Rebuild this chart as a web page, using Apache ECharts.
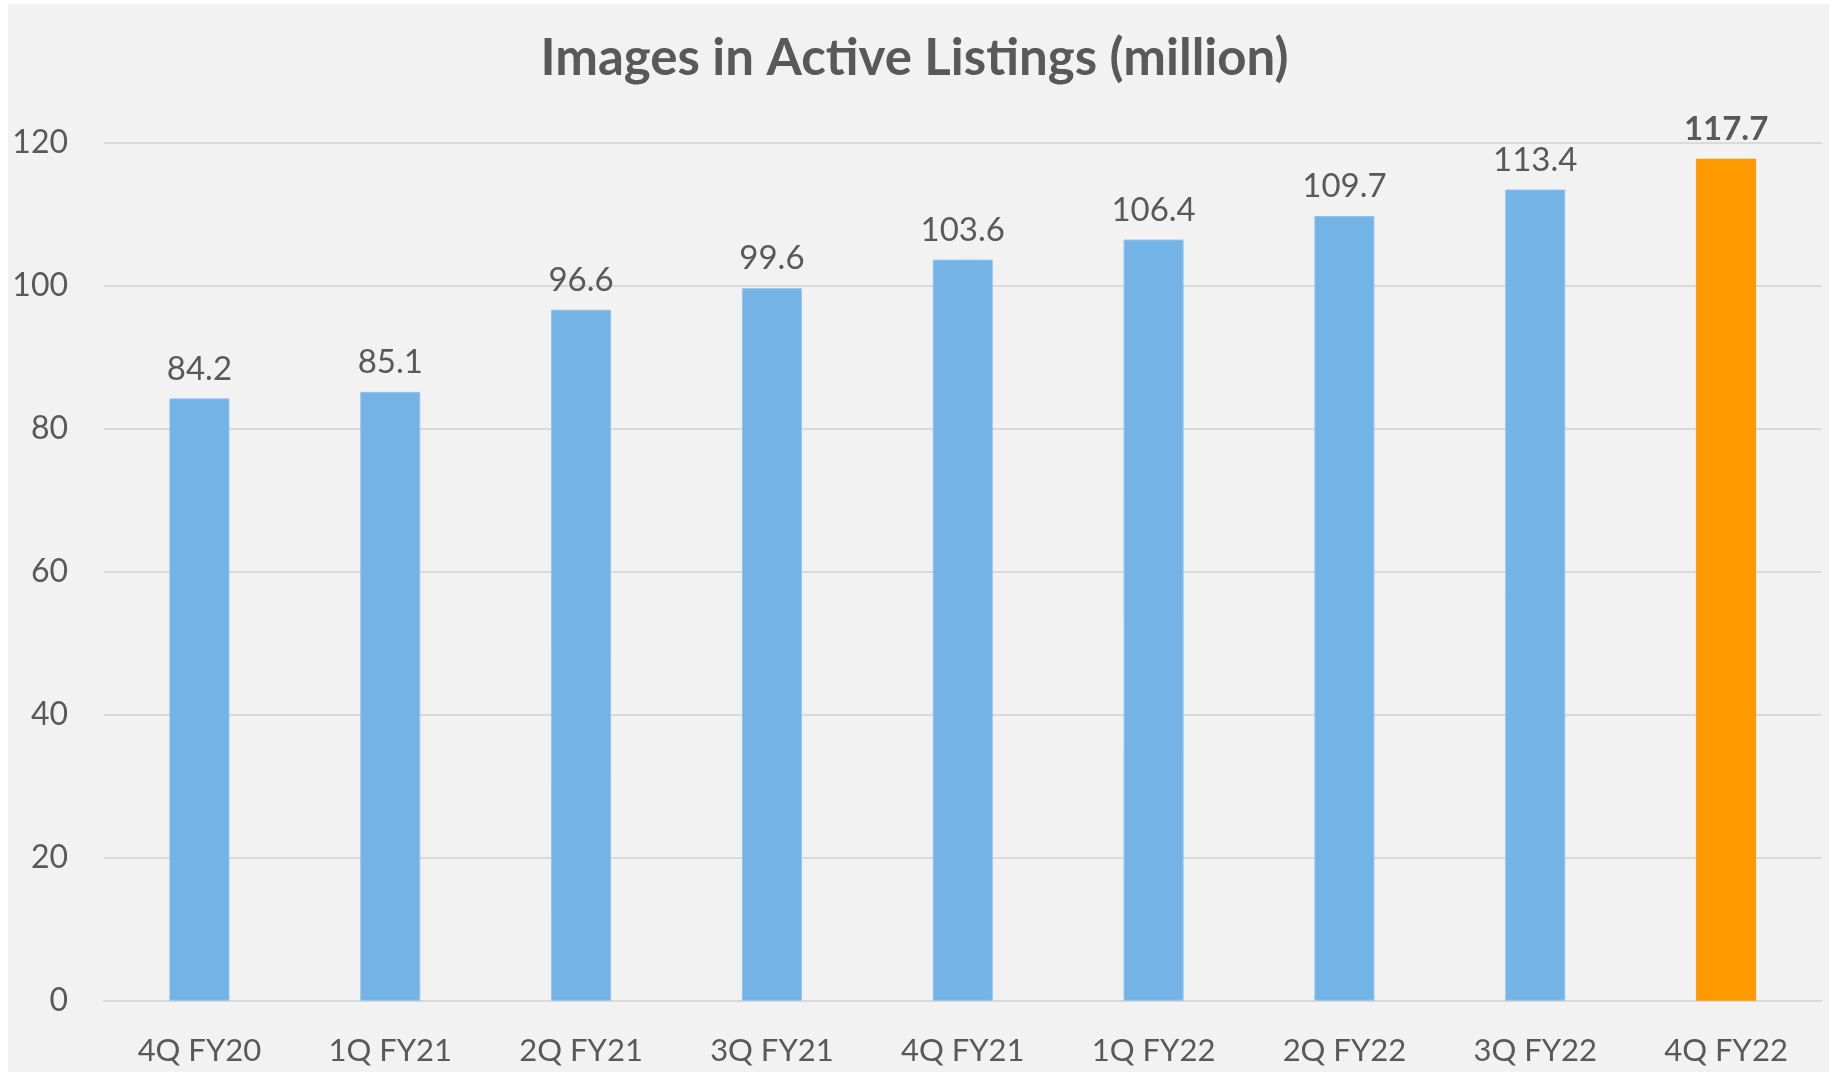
<!DOCTYPE html>
<html>
<head>
<meta charset="utf-8">
<script src="https://cdn.jsdelivr.net/npm/echarts@6/dist/echarts.min.js"></script>
<style>
html,body{margin:0;padding:0;background:#ffffff;}
#bg{position:absolute;left:8px;top:4px;right:0;bottom:0;background:#f2f2f2;}
#chart{position:absolute;left:0;top:0;width:1829px;height:1072px;}
</style>
</head>
<body>
<div id="bg"></div>
<div id="chart"></div>
<script>
const categories = ['4Q FY20','1Q FY21','2Q FY21','3Q FY21','4Q FY21','1Q FY22','2Q FY22','3Q FY22','4Q FY22'];
const values = [84.2, 85.1, 96.6, 99.6, 103.6, 106.4, 109.7, 113.4, 117.7];
const highlightIndex = 8;
const yTicks = {min: 0, max: 120, interval: 20};

const FONT = 'Lato, "Noto Sans", sans-serif';
const TXT = '#595959';

const chart = echarts.init(document.getElementById('chart'), null, {renderer: 'canvas'});
chart.setOption({
  backgroundColor: 'transparent',
  animation: false,
  title: {
    text: 'Images in Active Listings (million)',
    left: 'center',
    top: 28,
    textStyle: {fontFamily: FONT, fontWeight: 'bold', fontSize: 51, color: TXT}
  },
  grid: {left: 104, right: 7.5, top: 142.3, bottom: 71.3},
  xAxis: {
    type: 'category',
    data: categories,
    axisLine: {show: true, lineStyle: {color: '#d9d9d9', width: 2}},
    axisTick: {show: false},
    axisLabel: {fontFamily: FONT, fontSize: 31, color: TXT, margin: 35}
  },
  yAxis: {
    type: 'value',
    min: yTicks.min, max: yTicks.max, interval: yTicks.interval,
    axisLine: {show: false},
    axisTick: {show: false},
    splitLine: {lineStyle: {color: '#d9d9d9', width: 2}},
    axisLabel: {fontFamily: FONT, fontSize: 32, color: TXT, margin: 36}
  },
  series: [{
    type: 'bar',
    barWidth: 60,
    data: values.map((v, i) => i === highlightIndex
      ? {value: v, itemStyle: {color: '#ff9900', borderWidth: 0}, label: {fontWeight: 'bold'}}
      : v),
    itemStyle: {color: '#74b3e6', borderColor: '#8fc3ee', borderWidth: 1},
    label: {
      show: true, position: 'top', distance: 13,
      fontFamily: FONT, fontSize: 33, color: TXT,
      formatter: p => p.value.toFixed(1)
    }
  }]
});
</script>
</body>
</html>
